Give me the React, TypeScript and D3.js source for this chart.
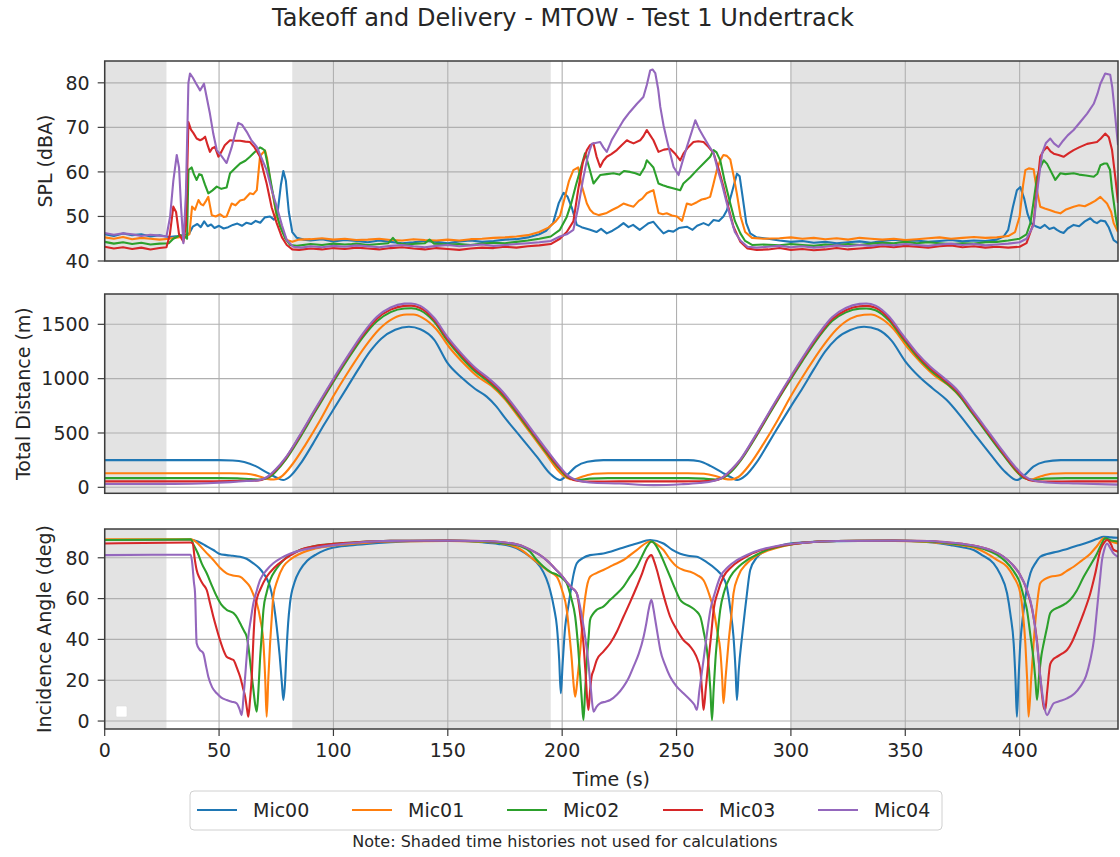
import React from 'react';
import * as d3 from 'd3';

type Pt = [number, number];

const FONT = '"DejaVu Sans", Verdana, sans-serif';
const chartTitle = 'Takeoff and Delivery - MTOW - Test 1 Undertrack';
const micNames = ['Mic00', 'Mic01', 'Mic02', 'Mic03', 'Mic04'];
const micColors = ['#1f77b4', '#ff7f0e', '#2ca02c', '#d62728', '#9467bd'];
const shadedSpans: Pt[] = [[0, 27], [82, 195], [300, 443]];
const xTicks = [0, 50, 100, 150, 200, 250, 300, 350, 400];
const splTicks = [40, 50, 60, 70, 80];
const distTicks = [0, 500, 1000, 1500];
const angleTicks = [0, 20, 40, 60, 80];

// ---------- SPL (dBA) ----------
const splMic00: Pt[] = [[0,46.0],[4,45.6],[8,46.2],[12,45.8],[16,46.0],[20,45.5],[24,45.8],[28,45.4],[32,45.6],[35,45.8],[37,46.2],[38.5,47.7],[40.5,48.3],[42,47.6],[43.5,48.9],[45,47.8],[46.5,48.2],[48,47.4],[50,47.9],[52,47.3],[54,47.6],[56,48.1],[58,48.4],[60,47.9],[62,48.6],[64,48.3],[66,49.0],[68,48.6],[70,49.8],[72.3,50.0],[74,49.3],[75.5,50.5],[77,57],[78.1,60.2],[79.2,58],[80.5,51],[82,46.5],[84,45.2],[87,44.8],[90,44.6],[95,44.9],[100,44.4],[105,44.7],[110,44.5],[115,44.2],[120,44.6],[125,44.3],[130,44.0],[135,44.2],[140,44.5],[145,44.3],[150,44.0],[155,44.4],[160,44.6],[165,44.3],[170,44.5],[175,44.8],[180,44.9],[185,45.3],[190,46.0],[193,46.8],[196,48.5],[198.5,53],[200.6,55.3],[202.3,54.5],[204.2,52.0],[206.4,48.1],[208.5,47.6],[212.2,47.0],[215,46.5],[217,47.2],[219.5,46.2],[222,46.8],[224.5,47.6],[226.8,48.5],[229,47.6],[231,48.1],[233.9,47.0],[236,47.8],[237.8,48.5],[239.9,48.8],[242,47.5],[244.3,46.2],[246.5,46.8],[248.6,46.6],[251,47.4],[254.5,47.7],[257,47.0],[259,47.9],[261.8,48.5],[264,48.0],[266.2,49.2],[268.5,49.0],[270.5,50.0],[272,51.4],[274,55],[276.4,59.6],[277.6,59],[279,54],[280.5,48.5],[282.2,46.2],[285,45.3],[290,45.0],[295,44.6],[300,44.3],[305,44.5],[310,44.1],[315,44.3],[320,44.0],[325,44.2],[330,44.4],[335,44.1],[340,44.5],[345,44.8],[350,44.5],[355,44.6],[360,44.3],[365,44.5],[370,44.7],[375,44.4],[380,44.6],[385,44.5],[390,44.8],[393,45.5],[395,47],[397,52],[398.8,55.9],[400.3,56.6],[402,54],[403.5,50.5],[405,48.5],[407,47.8],[409,47.4],[411,48.1],[413,47.2],[415,47.5],[416.3,47.0],[418,46.5],[419.2,46.3],[421,47.3],[423.6,48.1],[426,47.8],[428.5,48.9],[430.9,49.6],[432.5,48.8],[433.8,48.5],[435.5,49.1],[437.4,48.9],[439,47.5],[441.1,44.7],[443,44.0]];
const splMic01: Pt[] = [[0,45.3],[4,45.0],[8,45.4],[12,44.9],[16,45.2],[20,45.0],[24,44.8],[28,45.0],[32,45.3],[35,45.5],[37,46],[38.2,52.2],[39.5,51.5],[41,53.7],[42,52.8],[43.1,52.5],[44.3,53.5],[45.3,54.4],[46.8,50.3],[48.5,50.0],[50.5,50.5],[52,49.9],[53.3,50.0],[55.5,52.9],[57.2,52.5],[59.2,53.6],[61,53.8],[63.5,55.2],[65,55.0],[66.5,55.9],[67.9,63.5],[69,64.2],[70.1,64.8],[71,63],[72.3,58.2],[73.8,54],[75.2,50.0],[77.5,47],[79.6,44.7],[82,44.3],[85,44.8],[90,44.9],[95,45.1],[100,44.8],[105,45.0],[110,44.7],[115,44.8],[120,45.0],[125,44.7],[130,44.6],[135,44.9],[140,44.7],[145,44.6],[150,44.8],[155,44.6],[160,44.9],[165,45.0],[170,45.2],[175,45.3],[180,45.5],[185,45.8],[190,46.5],[194,47.5],[197,48.8],[199.1,50.2],[201,54],[203,58],[204.9,60.4],[207,61.0],[208.5,57],[210.8,52.9],[212.2,51.5],[213.7,50.7],[216,50.3],[219.5,50.8],[222,51.5],[224,52.0],[226.8,52.9],[229,52.5],[231.2,52.2],[233.5,53.5],[235,54.0],[237,55.2],[238.5,55.6],[239.9,55.9],[242.1,50.8],[244,50.5],[245.7,50.7],[248,50.2],[250.2,50.0],[252.4,49.0],[254.5,52.9],[256.5,52.6],[258.9,53.2],[261,53.8],[262.8,54.0],[264.7,54.4],[266,57],[267.6,60.4],[269,62.5],[270.5,63.8],[272,63.6],[273.5,62.8],[275,59],[276.4,55],[278,50],[280,46.5],[283,45.2],[288,45.0],[295,45.1],[300,45.3],[305,45.0],[310,45.2],[315,44.9],[320,45.1],[325,44.8],[330,45.2],[335,45.0],[340,44.8],[345,45.0],[350,44.7],[355,44.9],[360,45.1],[365,45.3],[370,45.0],[375,45.2],[380,45.4],[385,45.2],[390,45.3],[395,45.6],[398,46.5],[400,50],[401.5,57],[402.5,60.4],[404,60.8],[406.1,60.6],[407.5,56],[409,52.2],[411,51.8],[413.4,51.4],[415.5,51.0],[417.8,50.7],[420,51.5],[423.6,52.2],[426,52.5],[428.5,52.3],[430.9,52.9],[433,53.5],[435.3,54.4],[437,53.5],[438.2,52.9],[440,51],[441.1,48.5],[443,46.5]];
const splMic02: Pt[] = [[0,44.3],[4,43.9],[8,44.2],[12,43.8],[16,44.1],[20,43.7],[24,43.9],[28,44.0],[30,45.0],[33,45.8],[35,45.5],[36,45],[36.6,60.4],[38,61.0],[39,59.5],[40.2,58.2],[41.3,59.5],[42.4,59.3],[43.8,57.2],[45.3,55.2],[47,55.8],[49,56.7],[51,56.2],[53.3,56.5],[54.8,59.7],[57,60.8],[59.2,61.9],[61.5,62.5],[63.5,63.4],[65.5,64.4],[67.9,65.5],[69,65.2],[70,64.8],[71.5,61],[73,56.7],[75,51],[76.7,47.7],[79,45],[81,43.6],[84,43.4],[90,43.8],[95,43.6],[100,43.9],[105,43.7],[108,43.8],[110,43.9],[115,43.6],[120,43.8],[124,44.0],[126,45.2],[128,44.0],[132,43.7],[136,43.9],[140,44.0],[142,44.8],[144,43.9],[150,43.7],[155,43.8],[160,43.6],[165,43.9],[170,44.1],[175,44.0],[180,44.3],[185,44.6],[190,45.0],[195,45.5],[199,47],[202,49.9],[204,53],[206,57],[207.9,60.4],[210,64.2],[211.8,61],[213.7,57.4],[216.6,59.3],[219.5,59.5],[222.4,59.7],[225,59.4],[227,60.2],[229.7,60.0],[232,59.7],[234,59.3],[236,61],[237,62.6],[238.5,61.8],[239.9,61.0],[242.1,57.4],[244,57.0],[245.7,56.7],[248,56.4],[251.6,55.9],[253,57.4],[256,58.8],[258.9,60.4],[262,62.0],[264.7,63.4],[266.2,64.9],[267.5,64.4],[269.1,62.6],[271,58],[273.5,52.9],[275.5,49],[277.9,46.2],[280,44.5],[283,43.6],[288,43.7],[295,43.5],[300,43.8],[305,43.6],[310,43.4],[315,43.7],[320,43.5],[325,43.8],[330,43.6],[335,43.9],[340,44.1],[345,44.0],[350,44.3],[355,44.0],[360,44.2],[365,44.0],[370,43.8],[375,44.0],[380,43.9],[385,44.2],[390,44.3],[395,44.6],[400,45],[403,46],[404.7,48.5],[406,53],[407.6,58.9],[409,61],[410.5,62.6],[412,61.8],[413.4,60.4],[415.6,58.2],[417.8,59.7],[420,59.5],[423.6,59.7],[426,59.4],[429,59.2],[432.4,58.9],[434,59.6],[435.3,61.5],[437,61.9],[438.2,61.9],[439.5,60.5],[440.4,56.0],[442,50],[443,47]];
const splMic03: Pt[] = [[0,43.2],[4,42.8],[8,43.1],[12,42.7],[16,43.0],[20,42.6],[24,42.9],[27,43.1],[28.5,46],[30,52.2],[31.2,51],[32.5,46],[34.4,44.3],[35.5,48],[36.6,71.2],[37.7,69.5],[38.8,68.7],[40.2,67.5],[41.7,67.1],[42.8,67.4],[43.9,67.9],[45,66],[46,64.5],[47,65.3],[48.2,65.6],[49.7,63.4],[51,64.5],[52.5,66],[54.8,67.1],[57,67.0],[59.2,67.0],[61.5,66.8],[63.5,66.7],[65.5,65.5],[67.9,63.4],[69.5,60],[70.8,57.4],[73,52],[75.2,48.5],[77.5,45.3],[79.6,43.6],[82,42.6],[85,42.5],[90,42.8],[95,42.6],[100,42.9],[105,42.7],[110,43.0],[115,42.8],[120,42.6],[125,42.9],[130,43.1],[135,42.8],[140,42.6],[145,42.9],[150,42.7],[155,42.5],[160,42.8],[165,43.0],[170,42.9],[175,43.2],[180,43.0],[185,43.3],[190,43.5],[195,43.8],[199,45],[202,46.5],[204.9,48.9],[207,56],[209,62],[210.8,64.9],[212.2,66.0],[213.7,66.4],[215,63.5],[216.6,61.1],[218,62.5],[219.5,63.4],[221.5,64.0],[223.9,64.9],[226,66.0],[228.3,67.1],[229.8,66.7],[231.2,66.4],[234.1,67.1],[235.5,68.0],[237,69.4],[238.5,68.2],[239.9,67.1],[242.1,64.5],[244.5,65.0],[247.2,65.2],[249.5,64.0],[251.6,62.6],[253,64.1],[255,65.5],[257.4,66.7],[259.5,66.9],[261.8,66.7],[264,65.6],[266.2,64.2],[268.5,60.5],[270.5,56.7],[272.7,52],[274.9,47.7],[277.9,44.3],[281,42.8],[285,42.5],[290,42.6],[295,42.9],[300,42.5],[305,42.7],[310,42.4],[315,42.6],[320,42.9],[325,42.6],[330,42.8],[335,43.0],[340,43.3],[345,43.1],[350,43.4],[355,43.2],[360,43.0],[365,43.3],[370,43.5],[375,43.1],[380,43.3],[385,43.0],[390,43.2],[395,43.0],[400,43.2],[403,44],[406.1,48.5],[407.5,56],[409,63.4],[410.5,64.8],[412,65.6],[413.5,64.6],[414.9,64.1],[417,63.8],[419.2,63.4],[421.5,64.2],[423.6,64.9],[426,65.5],[429.5,66.3],[431.5,66.5],[433.8,66.7],[435.5,67.5],[437.4,68.6],[439,67.8],[440.4,64.9],[442,58],[443,53]];
const splMic04: Pt[] = [[0,46.3],[4,45.9],[8,46.2],[12,46.0],[16,45.6],[20,45.9],[24,45.7],[27,45.5],[28.6,50],[30,58],[31.5,63.8],[32.5,61],[33.4,52],[34.4,44.0],[35.5,55],[36.6,80],[37.3,82.1],[38.5,81.2],[40,79.8],[41.7,78.3],[43.4,79.8],[44.5,77],[46,73.1],[47.5,68.5],[49,64.9],[51,63.6],[53.3,62.0],[55.5,65.5],[57,68.5],[58.4,71.0],[60,70.6],[62.1,69.0],[64,67.2],[66.5,65.6],[68.5,63.2],[70.8,60.4],[73,56],[75.2,52.2],[77.5,48],[79.6,44.7],[82.4,43.2],[86,43.0],[90,43.3],[95,43.1],[100,43.4],[105,43.2],[110,43.5],[115,43.3],[120,43.1],[125,43.4],[130,43.6],[135,43.3],[140,43.1],[145,43.4],[150,43.6],[155,43.3],[160,43.5],[165,43.7],[170,43.4],[175,43.6],[180,43.8],[185,44.0],[190,44.2],[195,44.5],[199,45.5],[202,46],[204.9,47],[207,52],[209,58],[210.8,62.6],[212,64.8],[213,66.3],[214.5,66.5],[216.6,66.7],[218,65.5],[219.5,64.5],[221.7,67.2],[224,69.2],[226.8,71.6],[229.5,73.4],[232.7,75.3],[235.5,76.8],[237,79.5],[238.5,82.8],[239.5,83.0],[240.7,82.2],[242,78.5],[242.9,74.6],[244.3,70.5],[245.8,67.1],[247.3,64],[248.7,61.1],[250.9,59.3],[252.7,62.5],[254.5,65.6],[256.5,68.8],[258.2,71.6],[260,69.5],[261.8,67.9],[264,66],[266.2,64.2],[268,60.5],[269.8,57.4],[271.7,53.5],[273.5,49.9],[275.5,46.5],[277.9,44.6],[281,43.2],[285,43.0],[290,43.2],[295,43.4],[300,43.1],[305,43.3],[310,43.0],[315,43.2],[320,43.5],[325,43.3],[330,43.6],[335,43.4],[340,43.7],[345,43.5],[350,43.8],[355,43.6],[360,43.4],[365,43.7],[370,43.9],[375,43.6],[380,43.8],[385,43.5],[390,43.7],[395,43.9],[400,44.2],[403,45],[406.1,48],[408,57],[409.8,64.1],[411.5,66.5],[413.4,67.5],[415,66.4],[417,65.6],[419,67.0],[421,68.2],[423.6,69.4],[426.5,71.2],[429.5,73.1],[432.4,75.3],[434,77.5],[435.3,79.8],[437.4,82.1],[439.6,81.8],[440.5,79],[441.8,72.4],[443,66]];

// ---------- Total distance (m) ----------
const distMic00: Pt[] = [[0,250],[50,250],[56,247],[61,233],[66,195],[71,135],[75,90],[78,67],[81,100],[86,230],[91,400],[96,580],[101,750],[106,920],[111,1090],[116,1250],[121,1370],[127,1450],[133,1478],[138,1455],[144,1360],[150,1140],[156,1010],[162,905],[167,835],[171,750],[175,640],[182,460],[189,280],[195,120],[199,67],[202,110],[206,190],[211,235],[218,250],[255,250],[260,240],[265,195],[270,135],[274,90],[276.5,67],[280,105],[285,230],[290,400],[295,575],[300,745],[305,910],[310,1085],[315,1250],[320,1370],[326,1447],[332,1478],[338,1452],[344,1350],[350,1160],[356,1020],[362,910],[368,805],[374,660],[380,497],[387,310],[394,135],[398.8,67],[402,110],[406,190],[411,235],[418,250],[443,250]];
const distMic01: Pt[] = [[0,130],[55,130],[62,125],[67,105],[71,78],[74,72],[77,95],[82,210],[88,400],[94,610],[100,840],[107,1080],[114,1300],[120,1455],[126,1553],[132,1590],[135,1590],[139,1560],[145,1455],[151,1280],[157,1140],[163,1020],[169,935],[175,810],[181,645],[187,475],[193,305],[198,160],[202,88],[205,72],[209,100],[214,125],[220,130],[255,130],[262,125],[267,105],[271,78],[274,72],[277,95],[282,210],[288,400],[294,610],[300,840],[307,1080],[314,1300],[320,1455],[326,1553],[332,1588],[335,1590],[339,1560],[345,1455],[351,1285],[357,1145],[363,1025],[369,938],[375,812],[381,648],[387,478],[393,308],[398,160],[402,88],[405,72],[409,100],[414,125],[420,130],[443,130]];
const distMic02: Pt[] = [[0,85],[50,85],[58,82],[64,75],[68,72],[72,95],[75,150],[79,250],[85,445],[92,695],[99,938],[106,1170],[113,1385],[119,1528],[125,1612],[131,1646],[134,1648],[138,1628],[144,1525],[150,1345],[156,1195],[162,1065],[168,968],[174,848],[180,690],[186,520],[192,350],[198,188],[203,85],[207,68],[212,80],[220,85],[255,85],[262,80],[267,72],[271,95],[274,145],[278,245],[284,440],[291,688],[298,930],[305,1162],[312,1378],[318,1530],[324,1610],[330,1644],[333,1646],[337,1630],[343,1532],[349,1368],[355,1208],[361,1078],[367,975],[373,858],[379,690],[385,520],[391,350],[397,188],[402,85],[406,68],[411,80],[420,85],[443,85]];
const distMic03: Pt[] = [[0,55],[45,55],[55,57],[62,60],[67,63],[71,92],[75,165],[79,265],[85,462],[92,712],[99,955],[106,1190],[113,1405],[119,1552],[125,1635],[131,1670],[134,1672],[138,1650],[144,1545],[150,1365],[156,1215],[162,1085],[168,985],[174,865],[180,705],[186,535],[192,365],[198,200],[203,90],[207,58],[212,52],[225,55],[252,55],[260,56],[266,62],[270,88],[274,160],[278,255],[284,452],[291,702],[298,945],[305,1180],[312,1395],[318,1548],[324,1630],[330,1667],[333,1670],[337,1652],[343,1552],[349,1385],[355,1225],[361,1095],[367,990],[373,875],[379,705],[385,535],[391,365],[397,200],[402,92],[406,58],[412,52],[425,55],[443,55]];
const distMic04: Pt[] = [[0,30],[30,32],[45,38],[55,48],[62,58],[67,64],[71,95],[75,170],[79,270],[85,470],[92,720],[99,965],[106,1200],[113,1420],[119,1570],[125,1655],[131,1690],[134,1692],[138,1670],[144,1560],[150,1380],[156,1230],[162,1100],[168,1000],[174,880],[180,720],[186,550],[192,380],[198,215],[203,100],[207,62],[212,45],[225,35],[240,20],[252,28],[260,40],[266,58],[270,90],[274,165],[278,260],[284,460],[291,710],[298,955],[305,1190],[312,1410],[318,1565],[324,1650],[330,1688],[333,1692],[337,1672],[343,1570],[349,1400],[355,1240],[361,1110],[367,1005],[373,890],[379,720],[385,550],[391,380],[397,215],[402,105],[406,62],[412,45],[425,35],[443,25]];

// ---------- Incidence angle (deg) ----------
const angMic00: Pt[] = [[0,88.7],[37.6,88.8],[40.7,88],[44,86],[47.5,83.8],[50,82],[53.3,81.3],[56,81],[59.2,80.5],[62,79.5],[65,77.3],[67.5,75],[69.4,72.4],[71,69.5],[72.3,65.8],[73.8,58],[75.2,46.2],[76.5,32],[77.5,18],[78.1,10.3],[78.8,18],[79.5,34.8],[80.2,48],[81,57.7],[83,68],[85.4,74],[88.5,78.5],[92.7,81.8],[100,85],[107,86],[114.6,86.8],[125,87.6],[140,88.2],[155,88.2],[165,87.6],[172,86.8],[178,85.5],[181.6,83.8],[186,80.5],[190.4,75.6],[193,70],[194.7,64.2],[196.5,55],[197.7,46.2],[198.7,30],[199.4,13.6],[200.2,28],[201.3,46],[202.5,55],[203.5,62],[205,72],[206.4,77.3],[209,79.8],[212.2,81.3],[218,82.1],[225.3,84.5],[232.6,87],[238.5,88.7],[244.3,87],[248,84],[251.6,82],[255,81],[258.9,80.5],[263,78],[267.6,74],[270,71],[272,65.8],[273.5,55],[274.9,41.3],[275.8,25],[276.4,10.3],[277.2,25],[278.6,41],[280,55],[280.8,62.6],[282.2,74],[285,80],[289.5,83.8],[295,85.8],[299.7,87],[310,87.8],[330,88.3],[350,88.2],[362,87.5],[370,86.2],[375,85.2],[379.9,83.8],[384,81],[388.6,77.3],[391.5,72],[394.5,62.6],[396,52],[397.4,38],[398.2,20],[398.8,2.1],[399.5,20],[400.3,38],[401.5,52],[403,64],[404.7,72.4],[407,77.5],[409,80.5],[412,81.8],[416.3,83],[420,84],[423.6,85.4],[427,86.5],[430.9,88],[434,89.3],[436.7,90.3],[440,90],[443,89.8]];
const angMic01: Pt[] = [[0,89],[37.6,89],[39,88.5],[40.7,87],[44,83],[47.5,78.9],[50.5,75],[53.3,72.4],[56,71.3],[59.2,70.7],[61.5,68.5],[63.5,65.8],[65,62],[66.5,57.7],[68,50],[69.4,38.1],[70.2,20],[70.8,2.1],[71.5,20],[72.3,38],[73,50],[73.7,61],[75.5,69],[78.1,75.7],[81,79],[85.4,82],[92,84.5],[100,86],[110,87],[125,88],[150,88.3],[165,87.8],[172,87.3],[178,86],[182,84],[186,80.5],[190,77],[194,73.5],[197.7,70.7],[200,64],[202,54.5],[203.2,42],[204.2,30],[205,18],[205.7,11.9],[206.8,22],[207.9,34.8],[209,50],[210.1,61],[212.2,70.7],[215,72.5],[218,74],[222,76.3],[226.8,78.9],[232.6,83.8],[238.5,88],[241.5,86.5],[244.3,83.8],[247,79.5],[250.2,75.6],[253,74],[256,73.1],[259,71.5],[261.8,69],[264,63],[266.2,54.5],[267.8,44],[269.1,34.8],[270,20],[270.5,8.7],[271.5,22],[272.7,38],[274,52],[274.9,62.6],[277,71],[280.8,77.3],[285,81],[290,83.5],[297,85.8],[305,87.3],[320,88.2],[345,88.3],[360,87.8],[368,87],[375,86],[380,85],[385,82.5],[390,79],[394.5,75.6],[397.5,70.5],[400.3,62.6],[401.5,52],[402.5,38],[403.3,20],[403.9,2.1],[405,20],[406.1,38],[407.5,56],[409,67.5],[411,69.5],[413.4,70.7],[417.8,71.5],[420.5,73.5],[423.6,75.6],[427,78.5],[430.9,82],[434,86],[436.7,89.5],[440,88],[443,87]];
const angMic02: Pt[] = [[0,88.7],[37.6,89],[39,86],[40.7,82.2],[42.5,77],[44.6,72.4],[47,66],[49,61],[51,57],[53.3,54.5],[56.3,52.9],[58,50.5],[59.2,47.9],[61,44],[62.1,41.3],[63,35],[63.5,30],[64.3,22],[65,15.5],[65.8,8],[66.5,4.6],[67.2,15],[67.9,30],[68.7,43],[69.4,54.5],[70.8,63],[72.3,69],[75,74.5],[78.1,78.8],[81.5,81.8],[85.4,83.8],[92,85.8],[100,86.8],[110,87.6],[125,88.3],[150,88.4],[165,88],[175,87],[182,85.5],[186,83],[188.9,78.9],[192,75.5],[195,73],[198,71.5],[200.5,69.5],[202,67.5],[204,60],[205.7,51.1],[207,36],[207.9,21.7],[208.6,10],[209.3,0.5],[210,14],[210.8,30],[211.5,40],[212.2,49.5],[213.5,52.5],[215.1,54.5],[218,56.1],[221,59.4],[224,62.5],[226.8,65.9],[229.5,70.5],[232.6,75.6],[235,81],[237,85.4],[239.2,88],[241,86],[242.9,82],[245,76.5],[247.2,70.7],[249.5,64.5],[251.6,59.4],[253.5,57.5],[256,56.1],[258.5,54],[260.4,51.1],[262,43],[263.3,34.8],[264.2,25],[264.8,15.2],[265.5,0.5],[266.2,15],[267,30],[268,43],[269.1,54.5],[271,64],[273.5,70.7],[277,75.5],[280.8,78.9],[285,81.5],[290,84],[297,86],[305,87.3],[320,88.2],[345,88.4],[360,88],[368,87.3],[375,86.4],[380,85.5],[385,84],[390,81.5],[394,78],[397,74],[400,68],[402,60],[403.2,54.5],[404.7,42],[406.1,30],[406.9,20],[407.6,10.3],[408.5,22],[409.5,32],[410.5,38],[412,46],[413.4,52.9],[415.5,55],[417.8,56.1],[420,57.5],[422.1,59.4],[425,64],[428,70.7],[431,76.5],[433.8,82],[435.5,86],[437.4,89.5],[440,88.5],[443,88]];
const angMic03: Pt[] = [[0,87],[37.6,87.5],[38.5,87],[39.3,80],[40.2,74],[41.5,70],[43,67],[44.6,64.2],[46,58],[47.5,51.1],[49,45],[50.4,39.7],[52,34.5],[53.3,31.5],[55,30.5],[56.3,29.9],[57.8,26],[59.2,21.7],[60.5,16],[61.4,11.9],[62.2,6],[62.8,2.1],[63.5,10],[64.3,21.7],[65,40],[65.8,55],[66.8,61],[67.9,64.2],[70.8,70.7],[74,75],[78.1,78.8],[81,81],[85.4,83.8],[92,85.8],[100,86.8],[110,87.6],[125,88.3],[150,88.4],[165,88.2],[175,87.5],[182,86],[186,84],[190,81.5],[194,78],[197,74.5],[200,71],[202,68],[204,65.5],[206.4,62.6],[208,51],[209.3,38],[210.3,22],[211,10],[211.5,5.4],[212.2,15],[212.9,22],[213.7,24.8],[215.1,29.9],[218,34],[221,38.1],[224,44],[226.8,51.1],[229.8,58.5],[232.6,65.8],[235,72.5],[237,78.8],[239,81.3],[240.3,78],[241.4,74],[243.5,65],[245.5,57],[247.2,51.1],[250,45],[253,39.7],[256,36.5],[258.5,32],[260.4,25],[261.2,14],[261.8,5.4],[262.8,16],[264,30],[265.2,43],[266.2,54.5],[268,63],[270.5,70.7],[274,75.5],[277.9,78.8],[282,81.5],[288,84],[295,85.8],[305,87.3],[320,88.2],[345,88.4],[360,88.2],[368,87.6],[375,86.8],[382,85.5],[388,83.5],[393,80.5],[397,76.5],[400,72],[403.2,64],[405.5,54.5],[407.5,40],[409,21.7],[410.5,7],[411.2,5.4],[412,14],[413.4,28],[414.9,30.5],[416.3,31.5],[418.5,33],[420.7,34.8],[423,39],[425.1,44.6],[428,53],[430.9,62.6],[433,72],[435.3,83.8],[437,87.5],[438.2,88.7],[440,86.5],[441,84],[443,83]];
const angMic04: Pt[] = [[0,81.3],[37.6,81.5],[38.2,78],[39,68],[39.5,62.6],[40.2,38.1],[41.5,35],[43.1,33.2],[44.3,27],[45.3,21.7],[47,16.5],[49,13.6],[51,11.5],[53.3,10.3],[55.5,9.5],[57.7,8.7],[58.9,6],[59.9,2.9],[60.7,12],[61.4,21.7],[62.1,32],[62.8,41.3],[63.9,50],[65,57.7],[66.5,64],[67.9,69],[70.8,74],[73.7,77.3],[77,79.8],[81,82],[87,84],[92.7,85],[100,86.2],[110,87.4],[125,88.3],[150,88.4],[165,88.2],[175,87.5],[182,86],[186,84],[190,81.5],[194,78],[197,74.5],[200,71],[202,68],[204,65.5],[206.4,62.5],[208.5,52],[210.2,40],[211.5,28],[212.6,15],[213.7,4.6],[215,7],[216.6,8.7],[219,9.5],[221,10.3],[224,13],[226.8,16.9],[229,21],[231.2,26.7],[233.5,33],[235.6,41.3],[236.8,48],[237.8,54.5],[239,59.4],[239.9,55],[240.7,49.5],[241.8,42],[242.9,34.8],[245,27.5],[247.2,21.7],[250,17],[253,13.6],[256,10.3],[257.8,8],[258.9,5.4],[260,15],[261.8,30],[263.3,43],[264.8,54.5],[266.8,63],[269.1,70.7],[272.5,75.5],[276.4,78.8],[281,81.5],[287,84],[295,86],[305,87.3],[320,88.2],[345,88.4],[360,88.2],[368,87.6],[375,86.8],[382,85.5],[388,83.5],[393,80.5],[397,76.5],[400,72],[403,65],[405.5,55],[407.6,38],[409,22],[410.5,8.7],[412,2.9],[413.5,6],[414.9,8.7],[417,9.6],[420.7,11.1],[424,13.5],[426.5,16.9],[429,22],[430.9,30],[432.5,40],[433.8,54.5],[435,68],[436,78.8],[437,84],[438.2,87],[439.5,85],[441.1,82],[443,80.5]];

const splSeries = [splMic00, splMic01, splMic02, splMic03, splMic04];
const distSeries = [distMic00, distMic01, distMic02, distMic03, distMic04];
const angSeries = [angMic00, angMic01, angMic02, angMic03, angMic04];

const W = 1120;
const H = 857;
const X0 = 104.7;
const X1 = 1118;
const x = d3.scaleLinear().domain([0, 443]).range([X0, X1]);

interface PanelProps {
  id: string;
  top: number;
  bottom: number;
  domain: [number, number];
  ticks: number[];
  series: Pt[][];
  label: string;
  labelX: number;
  showX: boolean;
  smooth: boolean;
  emptyLegend?: boolean;
}

function Panel(p: PanelProps) {
  const y = d3.scaleLinear().domain(p.domain).range([p.bottom, p.top]);
  const line = d3
    .line<Pt>()
    .x((d) => x(d[0]))
    .y((d) => y(d[1]))
    .curve(p.smooth ? d3.curveMonotoneX : d3.curveLinear);
  const h = p.bottom - p.top;
  return (
    <g>
      <defs>
        <clipPath id={p.id}>
          <rect x={X0} y={p.top} width={X1 - X0} height={h} />
        </clipPath>
      </defs>
      <rect x={X0} y={p.top} width={X1 - X0} height={h} fill="#ffffff" />
      {shadedSpans.map(([a, b], i) => (
        <rect key={i} x={x(a)} y={p.top} width={x(b) - x(a)} height={h} fill="#e3e3e3" />
      ))}
      {xTicks.map((t) => (
        <line key={'gx' + t} x1={x(t)} x2={x(t)} y1={p.top} y2={p.bottom} stroke="#b0b0b0" strokeWidth={1.1} />
      ))}
      {p.ticks.map((t) => (
        <line key={'gy' + t} x1={X0} x2={X1} y1={y(t)} y2={y(t)} stroke="#b0b0b0" strokeWidth={1.1} />
      ))}
      <g clipPath={`url(#${p.id})`}>
        {p.series.map((s, i) => (
          <path key={i} d={line(s) || ''} fill="none" stroke={micColors[i]} strokeWidth={2.1} strokeLinejoin="round" />
        ))}
      </g>
      {p.emptyLegend && (
        <rect x={116} y={706} width={11} height={11} rx={1.5} fill="#ffffff" stroke="#dddddd" strokeWidth={0.6} />
      )}
      <rect x={X0} y={p.top} width={X1 - X0} height={h} fill="none" stroke="#3c3c3c" strokeWidth={1.5} />
      {p.ticks.map((t) => (
        <g key={'ty' + t}>
          <line x1={X0 - 7} x2={X0} y1={y(t)} y2={y(t)} stroke="#3c3c3c" strokeWidth={1.2} />
          <text x={X0 - 15} y={y(t)} dy="0.36em" textAnchor="end" fontSize={19} fill="#262626" fontFamily={FONT}>
            {t}
          </text>
        </g>
      ))}
      {p.showX &&
        xTicks.map((t) => (
          <g key={'tx' + t}>
            <line x1={x(t)} x2={x(t)} y1={p.bottom} y2={p.bottom + 7} stroke="#3c3c3c" strokeWidth={1.2} />
            <text x={x(t)} y={p.bottom + 28} textAnchor="middle" fontSize={19} fill="#262626" fontFamily={FONT}>
              {t}
            </text>
          </g>
        ))}
      <text
        transform={`translate(${p.labelX},${(p.top + p.bottom) / 2}) rotate(-90)`}
        textAnchor="middle"
        dy="0.36em"
        fontSize={19}
        fill="#262626"
        fontFamily={FONT}
      >
        {p.label}
      </text>
    </g>
  );
}

export default function App() {
  const legendX = [197, 352, 507, 663, 818];
  return (
    <svg width={W} height={H} style={{ position: 'absolute', left: 0, top: 0, background: '#ffffff' }} fontFamily={FONT}>
      <rect x={0} y={0} width={W} height={H} fill="#ffffff" />
      <text x={563} y={26} textAnchor="middle" fontSize={24} fill="#262626" fontFamily={FONT}>
        {chartTitle}
      </text>
      <Panel id="c1" top={61} bottom={261} domain={[40, 84.9]} ticks={splTicks} series={splSeries} label="SPL (dBA)" labelX={45} showX={false} smooth={false} />
      <Panel id="c2" top={294} bottom={493.3} domain={[-55, 1779]} ticks={distTicks} series={distSeries} label="Total Distance (m)" labelX={23} showX={false} smooth={true} />
      <Panel id="c3" top={529} bottom={729} domain={[-3.9, 94.1]} ticks={angleTicks} series={angSeries} label="Incidence Angle (deg)" labelX={44} showX={true} smooth={true} emptyLegend={true} />
      <text x={(X0 + X1) / 2} y={786} textAnchor="middle" fontSize={19} fill="#262626" fontFamily={FONT}>
        Time (s)
      </text>
      <rect x={190} y={791} width={752} height={39} rx={4} fill="#ffffff" stroke="#d0d0d0" strokeWidth={1} />
      {micNames.map((m, i) => (
        <g key={m}>
          <line x1={legendX[i]} x2={legendX[i] + 40} y1={810} y2={810} stroke={micColors[i]} strokeWidth={2.1} />
          <text x={legendX[i] + 56} y={810} dy="0.36em" fontSize={19} fill="#262626" fontFamily={FONT}>
            {m}
          </text>
        </g>
      ))}
      <text x={565} y={847} textAnchor="middle" fontSize={16} fill="#262626" fontFamily={FONT}>
        Note: Shaded time histories not used for calculations
      </text>
    </svg>
  );
}
